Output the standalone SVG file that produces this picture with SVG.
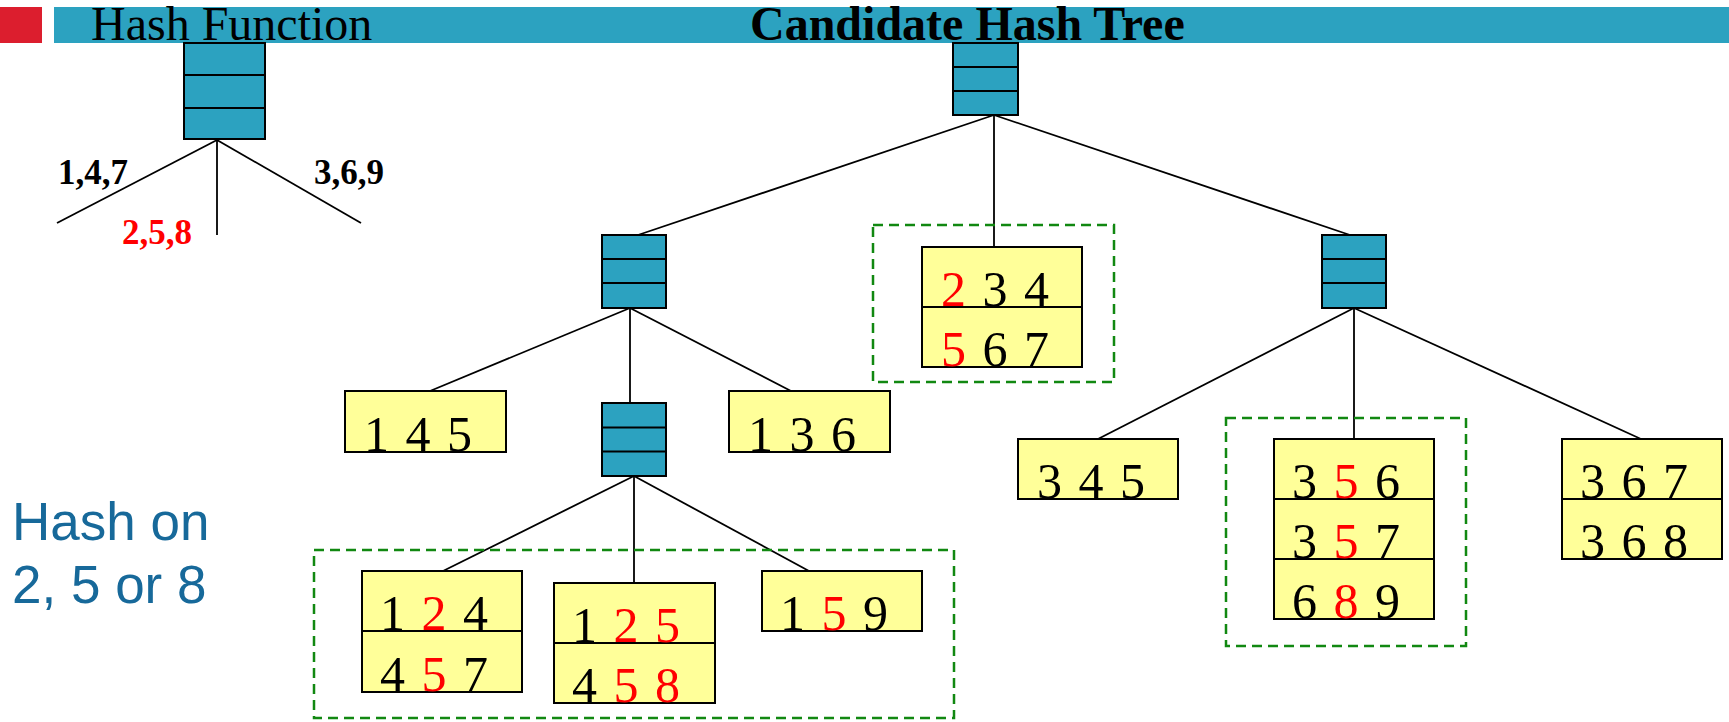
<svg xmlns="http://www.w3.org/2000/svg" width="1729" height="722" viewBox="0 0 1729 722">
<style>
.hb{fill:#2ca2c0;stroke:#000;stroke-width:2}
.dv{stroke:#000;stroke-width:2}
.lf{fill:#ffff99;stroke:#000;stroke-width:2}
.ed{stroke:#000;stroke-width:1.8;fill:none}
.grp{fill:none;stroke:#118811;stroke-width:2.5;stroke-dasharray:10 6}
.num{font-family:"Liberation Serif",serif;font-size:50px;letter-spacing:2px;fill:#000}
.r{fill:#ff0000}
.lbl{font-family:"Liberation Serif",serif;font-size:35px;font-weight:bold}
</style>
<rect x="0" y="7" width="42" height="36" fill="#dc1e2e"/>
<rect x="54" y="7" width="1675" height="36" fill="#2ca2c0"/>
<text x="91" y="40" font-family="Liberation Serif, serif" font-size="48">Hash Function</text>
<text x="750" y="40" font-family="Liberation Serif, serif" font-size="48" font-weight="bold">Candidate Hash Tree</text>

<g id="connectors">
<line class="ed" x1="217" y1="140" x2="57" y2="223"/>
<line class="ed" x1="217" y1="140" x2="217" y2="235"/>
<line class="ed" x1="217" y1="140" x2="361" y2="223"/>
<line class="ed" x1="994" y1="115" x2="638" y2="235"/>
<line class="ed" x1="994" y1="115" x2="994" y2="247"/>
<line class="ed" x1="994" y1="115" x2="1350" y2="235"/>
<line class="ed" x1="630" y1="308" x2="430" y2="391"/>
<line class="ed" x1="630" y1="308" x2="630" y2="403"/>
<line class="ed" x1="630" y1="308" x2="791" y2="391"/>
<line class="ed" x1="634" y1="476" x2="443" y2="571"/>
<line class="ed" x1="634" y1="476" x2="634" y2="583"/>
<line class="ed" x1="634" y1="476" x2="809" y2="571"/>
<line class="ed" x1="1354" y1="308" x2="1098" y2="439"/>
<line class="ed" x1="1354" y1="308" x2="1354" y2="439"/>
<line class="ed" x1="1354" y1="308" x2="1641" y2="439"/>
</g>

<g id="hash-function">
<rect class="hb" x="184" y="43" width="81" height="96"/>
<line class="dv" x1="184" y1="75" x2="265" y2="75"/>
<line class="dv" x1="184" y1="108" x2="265" y2="108"/>
<text class="lbl" x="58" y="184">1,4,7</text>
<text class="lbl" x="314" y="184">3,6,9</text>
<text class="lbl" x="122" y="244" fill="#ff0000">2,5,8</text>
</g>

<g id="root">
<rect class="hb" x="953" y="43" width="65" height="72"/>
<line class="dv" x1="953" y1="67" x2="1018" y2="67"/>
<line class="dv" x1="953" y1="91" x2="1018" y2="91"/>
</g>

<g id="hash-left">
<rect class="hb" x="602" y="235" width="64" height="73"/>
<line class="dv" x1="602" y1="259" x2="666" y2="259"/>
<line class="dv" x1="602" y1="283" x2="666" y2="283"/>
</g>

<g id="hash-right">
<rect class="hb" x="1322" y="235" width="64" height="73"/>
<line class="dv" x1="1322" y1="259" x2="1386" y2="259"/>
<line class="dv" x1="1322" y1="283" x2="1386" y2="283"/>
</g>

<g id="hash-sub">
<rect class="hb" x="602" y="403" width="64" height="73"/>
<line class="dv" x1="602" y1="427.5" x2="666" y2="427.5"/>
<line class="dv" x1="602" y1="451.5" x2="666" y2="451.5"/>
</g>

<g id="group-234">
<rect class="grp" x="873" y="225" width="241" height="157"/>
<rect class="lf" x="922" y="247" width="160" height="120"/>
<line class="dv" x1="922" y1="307" x2="1082" y2="307"/>
<text class="num" x="941" y="306"><tspan class="r">2</tspan> 3 4</text>
<text class="num" x="941" y="366"><tspan class="r">5</tspan> 6 7</text>
</g>

<g id="leaf-145">
<rect class="lf" x="345" y="391" width="161" height="61"/>
<text class="num" x="364" y="451">1 4 5</text>
</g>

<g id="leaf-136">
<rect class="lf" x="729" y="391" width="161" height="61"/>
<text class="num" x="748" y="451">1 3 6</text>
</g>

<g id="group-bottom">
<rect class="grp" x="314" y="550" width="640" height="168"/>
</g>

<g id="leaf-124">
<rect class="lf" x="362" y="571" width="160" height="121"/>
<line class="dv" x1="362" y1="631" x2="522" y2="631"/>
<text class="num" x="380" y="630">1 <tspan class="r">2</tspan> 4</text>
<text class="num" x="380" y="691">4 <tspan class="r">5</tspan> 7</text>
</g>

<g id="leaf-125">
<rect class="lf" x="554" y="583" width="161" height="120"/>
<line class="dv" x1="554" y1="643" x2="715" y2="643"/>
<text class="num" x="572" y="642">1 <tspan class="r">2 5</tspan></text>
<text class="num" x="572" y="702">4 <tspan class="r">5 8</tspan></text>
</g>

<g id="leaf-159">
<rect class="lf" x="762" y="571" width="160" height="60"/>
<text class="num" x="780" y="630">1 <tspan class="r">5</tspan> 9</text>
</g>

<g id="leaf-345">
<rect class="lf" x="1018" y="439" width="160" height="60"/>
<text class="num" x="1037" y="498">3 4 5</text>
</g>

<g id="group-356">
<rect class="grp" x="1226" y="418" width="240" height="228"/>
<rect class="lf" x="1274" y="439" width="160" height="180"/>
<line class="dv" x1="1274" y1="499" x2="1434" y2="499"/>
<line class="dv" x1="1274" y1="559" x2="1434" y2="559"/>
<text class="num" x="1292" y="498">3 <tspan class="r">5</tspan> 6</text>
<text class="num" x="1292" y="558">3 <tspan class="r">5</tspan> 7</text>
<text class="num" x="1292" y="618">6 <tspan class="r">8</tspan> 9</text>
</g>

<g id="leaf-367">
<rect class="lf" x="1562" y="439" width="160" height="120"/>
<line class="dv" x1="1562" y1="499" x2="1722" y2="499"/>
<text class="num" x="1580" y="498">3 6 7</text>
<text class="num" x="1580" y="558">3 6 8</text>
</g>

<g id="note">
<text font-family="Liberation Sans, Arial, sans-serif" font-size="53" fill="#17699a">
<tspan x="12" y="540">Hash on</tspan>
<tspan x="12" y="603">2, 5 or 8</tspan>
</text>
</g>
</svg>
